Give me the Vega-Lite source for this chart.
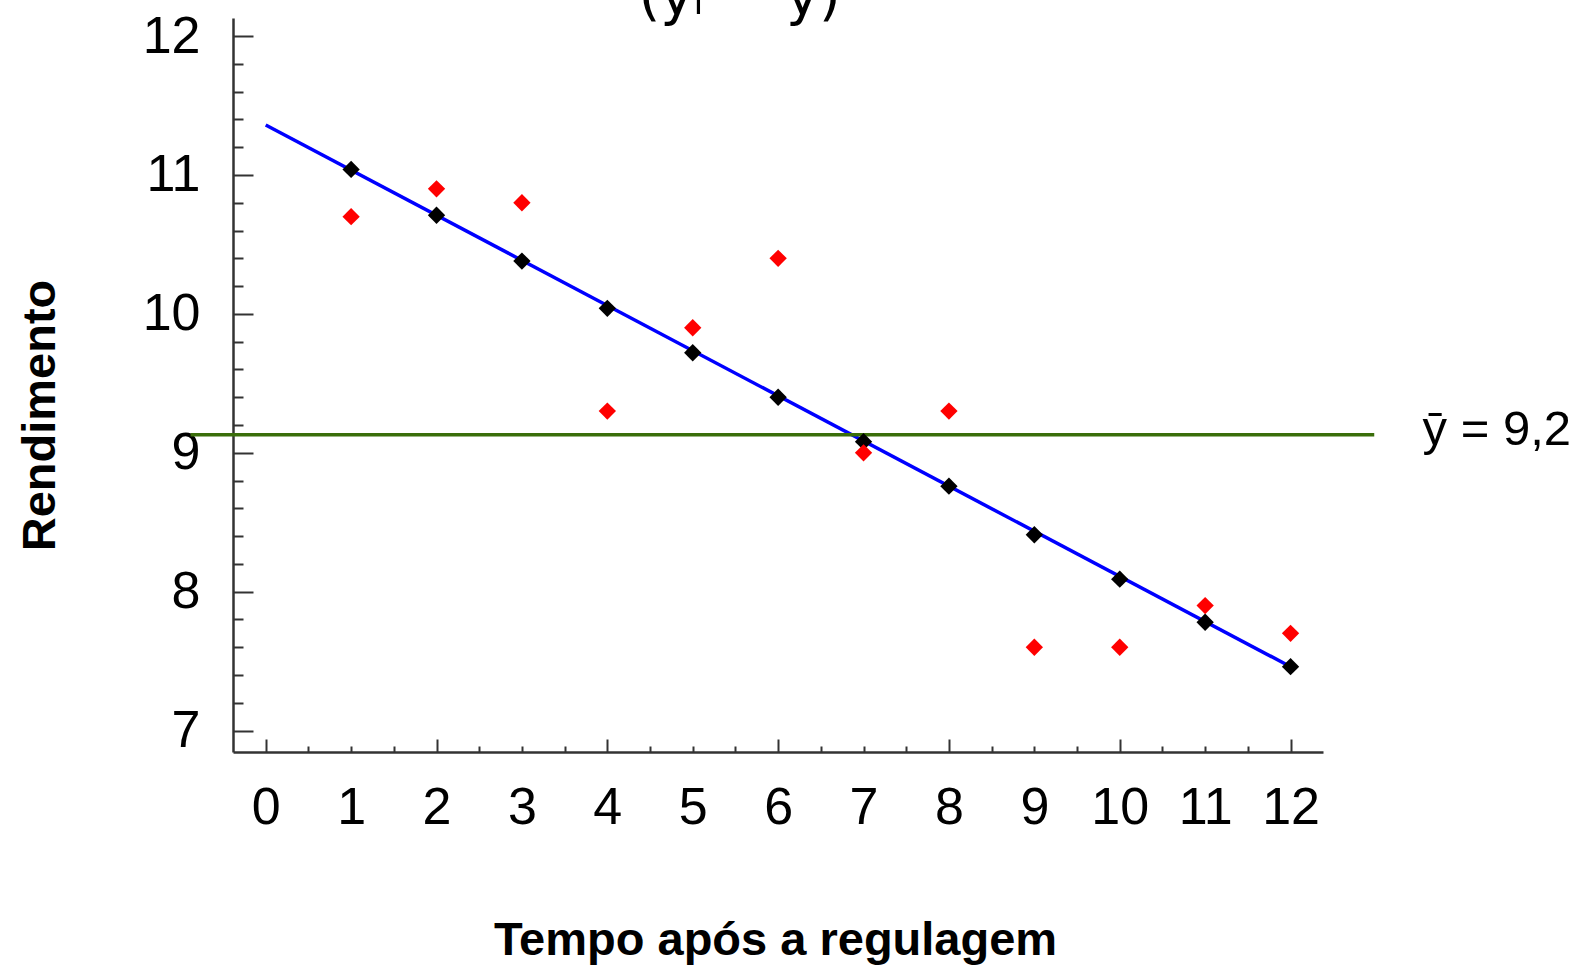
{
  "$schema": "https://vega.github.io/schema/vega-lite/v6.json",
  "width": 1090,
  "height": 734,
  "autosize": {"type": "none"},
  "padding": {"left": 233, "top": 18, "right": 258, "bottom": 214},
  "background": "white",
  "config": {
    "view": {"stroke": null},
    "font": "Liberation Sans",
    "axis": {"grid": false}
  },
  "datasets": {
    "obs": [
      {"t": 1, "y": 10.7}, {"t": 2, "y": 10.9}, {"t": 3, "y": 10.8}, {"t": 4, "y": 9.3},
      {"t": 5, "y": 9.9}, {"t": 6, "y": 10.4}, {"t": 7, "y": 9.0}, {"t": 8, "y": 9.3},
      {"t": 9, "y": 7.6}, {"t": 10, "y": 7.6}, {"t": 11, "y": 7.9}, {"t": 12, "y": 7.7}
    ],
    "fit": [
      {"t": 1, "y": 11.04}, {"t": 2, "y": 10.71}, {"t": 3, "y": 10.38}, {"t": 4, "y": 10.04},
      {"t": 5, "y": 9.72}, {"t": 6, "y": 9.4}, {"t": 7, "y": 9.08}, {"t": 8, "y": 8.76},
      {"t": 9, "y": 8.41}, {"t": 10, "y": 8.09}, {"t": 11, "y": 7.78}, {"t": 12, "y": 7.46}
    ],
    "line": [{"t": 0, "y": 11.36}, {"t": 12, "y": 7.46}],
    "mean": [{"t0": -0.88, "t1": 12.98, "y": 9.13, "label": "ȳ = 9,2"}],
    "top": [{"t": 5.55, "y": 12.16, "label": "(yᵢ − ȳ)"}]
  },
  "resolve": {"axis": {"x": "independent", "y": "independent"}},
  "layer": [
    {
      "data": {"name": "line"},
      "mark": {"type": "line", "color": "#0000ff", "strokeWidth": 3.5},
      "encoding": {
        "x": {"field": "t", "type": "quantitative", "scale": {"domain": [-0.383, 12.38], "nice": false, "zero": false},
          "axis": {"orient": "bottom", "values": [0,1,2,3,4,5,6,7,8,9,10,11,12], "ticks": false,
            "domainColor": "#333333", "domainWidth": 2.5, "labelFontSize": 52, "labelColor": "#000000",
            "labelPadding": 30, "labelFont": "Liberation Sans",
            "title": "Tempo após a regulagem", "titleFontSize": 47, "titleFontWeight": "bold", "titleColor": "#000000",
            "titleFont": "Liberation Sans", "titleBaseline": "alphabetic", "titleY": 202, "titleX": 542}},
        "y": {"field": "y", "type": "quantitative", "scale": {"domain": [6.846, 12.13], "nice": false, "zero": false},
          "axis": {"orient": "left", "values": [7,8,9,10,11,12], "ticks": false,
            "domainColor": "#333333", "domainWidth": 2.5, "labelFontSize": 52, "labelColor": "#000000",
            "labelPadding": 33, "labelFont": "Liberation Sans",
            "title": "Rendimento", "titleFontSize": 47, "titleFontWeight": "bold", "titleColor": "#000000",
            "titleFont": "Liberation Sans", "titleBaseline": "middle", "titleX": -193, "titleY": 397, "titleAngle": -90}}
      }
    },
    {
      "data": {"name": "mean"},
      "mark": {"type": "rule", "color": "#3a6e0a", "strokeWidth": 3.5},
      "encoding": {
        "x": {"field": "t0", "type": "quantitative",
          "axis": {"orient": "bottom", "values": [0,2,4,6,8,10,12], "labels": false, "domain": false,
            "tickSize": -13, "tickWidth": 2, "tickColor": "#333333", "title": null}},
        "x2": {"field": "t1"},
        "y": {"field": "y", "type": "quantitative",
          "axis": {"orient": "left", "values": [7,8,9,10,11,12], "labels": false, "domain": false,
            "tickSize": -20, "tickWidth": 2, "tickColor": "#333333", "title": null}}
      }
    },
    {
      "data": {"name": "mean"},
      "mark": {"type": "text", "align": "left", "baseline": "alphabetic", "fontSize": 49, "dx": 1232, "dy": 10, "color": "#000000", "font": "Liberation Sans"},
      "encoding": {
        "x": {"field": "t0", "type": "quantitative", "axis": null},
        "y": {"field": "y", "type": "quantitative", "axis": null},
        "text": {"field": "label"}
      }
    },
    {
      "data": {"name": "fit"},
      "mark": {"type": "point", "shape": "diamond", "filled": true, "color": "#000000", "size": 300, "opacity": 1},
      "encoding": {
        "x": {"field": "t", "type": "quantitative",
          "axis": {"orient": "bottom", "values": [-0.5,0.5,1,1.5,2.5,3,3.5,4.5,5,5.5,6.5,7,7.5,8.5,9,9.5,10.5,11,11.5,12.5],
            "labels": false, "domain": false, "tickSize": -6, "tickWidth": 2, "tickColor": "#333333", "title": null}},
        "y": {"field": "y", "type": "quantitative",
          "axis": {"orient": "left", "values": [7.2,7.4,7.6,7.8,8.2,8.4,8.6,8.8,9.2,9.4,9.6,9.8,10.2,10.4,10.6,10.8,11.2,11.4,11.6,11.8],
            "labels": false, "domain": false, "tickSize": -10, "tickWidth": 2, "tickColor": "#333333", "title": null}}
      }
    },
    {
      "data": {"name": "obs"},
      "mark": {"type": "point", "shape": "diamond", "filled": true, "color": "#ff0000", "size": 300, "opacity": 1},
      "encoding": {
        "x": {"field": "t", "type": "quantitative", "axis": null},
        "y": {"field": "y", "type": "quantitative", "axis": null}
      }
    },
    {
      "data": {"name": "top"},
      "mark": {"type": "text", "align": "center", "baseline": "alphabetic", "fontSize": 56, "color": "#000000", "font": "DejaVu Sans"},
      "encoding": {
        "x": {"field": "t", "type": "quantitative", "axis": null},
        "y": {"field": "y", "type": "quantitative", "axis": null},
        "text": {"field": "label"}
      }
    }
  ]
}
